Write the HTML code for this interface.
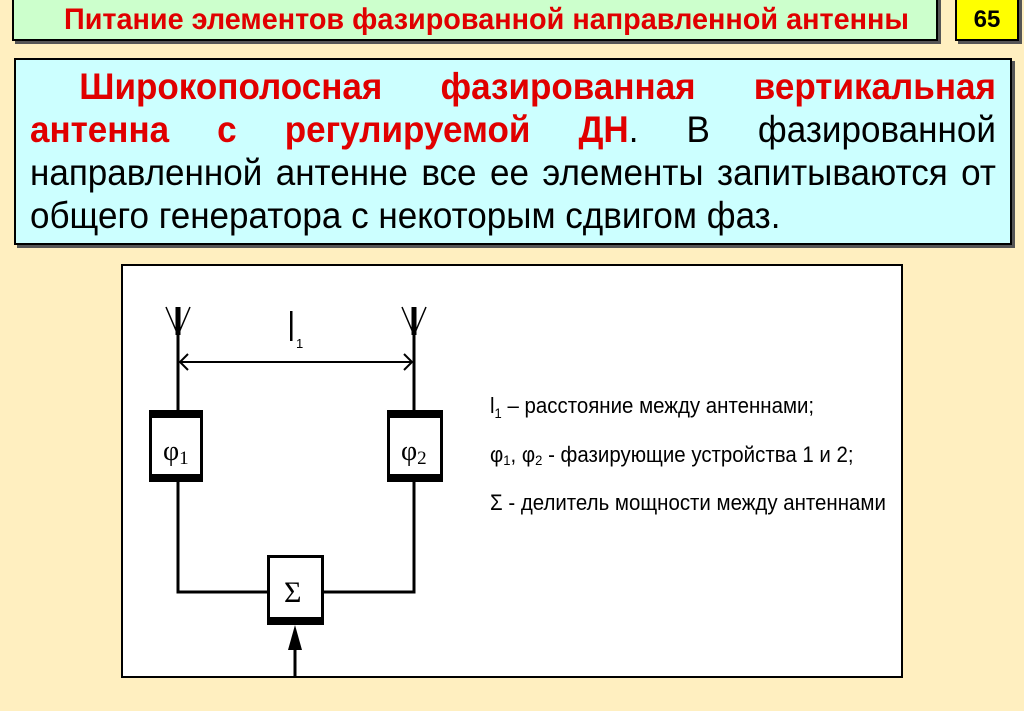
<!DOCTYPE html>
<html><head><meta charset="utf-8"><style>
body{margin:0;width:1024px;height:711px;background:#FFEFC0;position:relative;overflow:hidden;font-family:"Liberation Sans",sans-serif}
.abs{position:absolute}
.title{left:12px;top:-3px;width:922px;height:40px;background:#CCFFCC;border:2px solid #000;box-shadow:3px 3px 0 #555}
.num{left:955px;top:-3px;width:60px;height:40px;background:#FFFF00;border:2px solid #000;box-shadow:3px 3px 0 #555;font-weight:bold;font-size:24px;text-align:center;line-height:42px}
.content{left:14px;top:58px;width:994px;height:183px;background:#CCFFFF;border:2px solid #000;box-shadow:3px 3px 0 #555}
.line{position:absolute;left:14px;width:1020px;font-size:37px;white-space:nowrap;display:flex;justify-content:space-between;transform:scaleX(0.947);transform-origin:0 0}
.red{color:#E00000;font-weight:bold}
</style></head><body>
<div class="abs title"><div style="position:absolute;left:50px;top:4px;font-size:30px;font-weight:bold;color:#E00000;transform:scaleX(0.96);transform-origin:0 0;white-space:nowrap">Питание элементов фазированной направленной антенны</div></div>
<div class="abs num">65</div>
<div class="abs content">
<div class="line" style="top:6px"><span class="red" style="margin-left:52px">Широкополосная</span><span class="red">фазированная</span><span class="red">вертикальная</span></div>
<div class="line" style="top:49px"><span class="red">антенна</span><span class="red">с</span><span class="red">регулируемой</span><span><span class="red">ДН</span>.</span><span>В</span><span>фазированной</span></div>
<div class="line" style="top:92px"><span>направленной</span><span>антенне</span><span>все</span><span>ее</span><span>элементы</span><span>запитываются</span><span>от</span></div>
<div class="line" style="top:135px;justify-content:flex-start">общего генератора с некоторым сдвигом фаз.</div>
</div>
<svg class="abs" style="left:0;top:0" width="1024" height="711">
<rect x="122" y="265" width="780" height="412" fill="#fff" stroke="#000" stroke-width="2"/>
<g stroke="#000" fill="none">
<line x1="178" y1="307" x2="178" y2="410" stroke-width="3"/>
<line x1="414" y1="307" x2="414" y2="410" stroke-width="3"/>
<line x1="178" y1="307" x2="178" y2="335" stroke-width="5"/>
<line x1="414" y1="307" x2="414" y2="335" stroke-width="5"/>
<path d="M166 307 L178 335 L190 307" stroke-width="1.5"/>
<path d="M402 307 L414 335 L426 307" stroke-width="1.5"/>
<line x1="180" y1="362" x2="412" y2="362" stroke-width="2"/>
<path d="M188 354 L180 362 L188 370" stroke-width="2"/>
<path d="M404 354 L412 362 L404 370" stroke-width="2"/>
<path d="M178 482 L178 592 L267 592" stroke-width="3"/>
<path d="M414 482 L414 592 L324 592" stroke-width="3"/>
<line x1="295" y1="640" x2="295" y2="677" stroke-width="3"/>
</g>
<path d="M295 625 L288 650 L302 650 Z" fill="#000"/>
<rect x="150.5" y="411.5" width="51" height="69" fill="#fff" stroke="#000" stroke-width="3"/>
<rect x="150" y="410" width="53" height="8" fill="#000"/><rect x="150" y="474" width="53" height="8" fill="#000"/>
<rect x="388.5" y="411.5" width="53" height="69" fill="#fff" stroke="#000" stroke-width="3"/>
<rect x="388" y="410" width="55" height="8" fill="#000"/><rect x="388" y="474" width="55" height="8" fill="#000"/>
<rect x="268.5" y="556.5" width="54" height="67" fill="#fff" stroke="#000" stroke-width="3"/>
<rect x="268" y="617" width="56" height="8" fill="#000"/>
<text x="163" y="460" font-family="Liberation Serif,serif" font-size="28">φ<tspan font-size="19" dy="4">1</tspan></text>
<text x="401" y="460" font-family="Liberation Serif,serif" font-size="28">φ<tspan font-size="19" dy="4">2</tspan></text>
<text x="284" y="602" font-family="Liberation Serif,serif" font-size="30">Σ</text>
<rect x="290" y="311" width="2.5" height="30" fill="#000"/>
<text x="296" y="348" font-family="Liberation Sans,sans-serif" font-size="13">1</text>
<g font-family="Liberation Sans,sans-serif" font-size="22" transform="translate(490,0) scale(0.93,1)">
<text x="0" y="413">l<tspan font-size="14" dy="5">1</tspan><tspan dy="-5"> – расстояние между антеннами;</tspan></text>
<text x="0" y="462">φ<tspan font-size="14" dy="3">1</tspan><tspan dy="-3">, φ</tspan><tspan font-size="14" dy="3">2</tspan><tspan dy="-3"> - фазирующие устройства 1 и 2;</tspan></text>
<text x="0" y="510">Σ - делитель мощности между антеннами</text>
</g>
</svg>
</body></html>
